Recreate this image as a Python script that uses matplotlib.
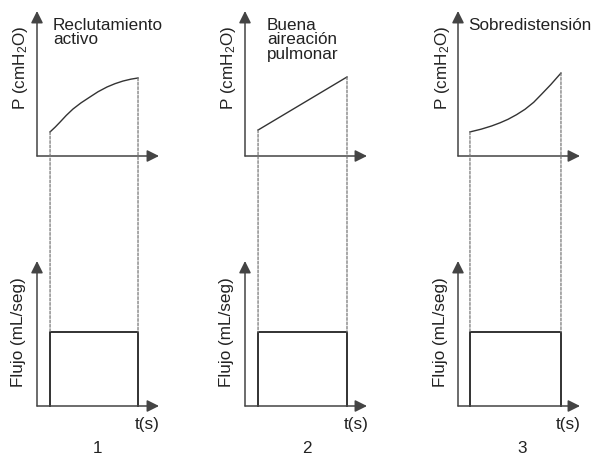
import matplotlib
matplotlib.use("Agg")
import matplotlib.pyplot as plt
from matplotlib.patches import ConnectionPatch

plt.rcParams['font.family'] = ['Liberation Sans', 'DejaVu Sans']
plt.rcParams['mathtext.fontset'] = 'custom'
plt.rcParams['mathtext.rm'] = 'Liberation Sans'
plt.rcParams['mathtext.default'] = 'regular'

# ---- data (normalised time / pressure / flow units) ----
titles = ["Reclutamiento\nactivo", "Buena\naireación\npulmonar", "Sobredistensión"]
panel_numbers = ["1", "2", "3"]
p_label = "P (cmH$_2$O)"
f_label = "Flujo (mL/seg)"
t_label = "t(s)"

t_p1 = [0.107, 0.150, 0.189, 0.240, 0.295, 0.360, 0.434, 0.500, 0.574, 0.640, 0.705, 0.770, 0.828]
p1 = [0.166, 0.200, 0.234, 0.280, 0.324, 0.366, 0.407, 0.443, 0.476, 0.499, 0.517, 0.530, 0.538]
t_p2 = [0.107, 0.836]
p2 = [0.179, 0.545]
t_p3 = [0.098, 0.190, 0.275, 0.345, 0.410, 0.480, 0.549, 0.620, 0.685, 0.760, 0.844]
p3 = [0.166, 0.185, 0.207, 0.229, 0.253, 0.285, 0.322, 0.370, 0.426, 0.492, 0.572]
pressure_t = [t_p1, t_p2, t_p3]
pressure_v = [p1, p2, p3]
flow_level = [0.51, 0.51, 0.51]

W, H = 592, 456
fig = plt.figure(figsize=(W / 100, H / 100), dpi=100)

col_x = [37, 245, 458]
ax_w, ax_h = 122, 145
top_bottom, bot_bottom = 157, 407

def add_ax(x, ybot):
    return fig.add_axes([x / W, 1 - ybot / H, ax_w / W, ax_h / H])

axis_col = '#444444'
curve_col = '#333333'
dash_col = '#777777'

def draw_axes(ax):
    ax.set_xlim(0, 1)
    ax.set_ylim(0, 1)
    ax.axis('off')
    for xy in [(1, 0), (0, 1)]:
        ax.annotate('', xy=xy, xytext=(0, 0), xycoords='axes fraction',
                    textcoords='axes fraction',
                    arrowprops=dict(arrowstyle='-|>,head_length=0.6,head_width=0.3',
                                    color=axis_col, lw=1.1, mutation_scale=12,
                                    shrinkA=0, shrinkB=0))

for i in range(3):
    axt = add_ax(col_x[i], top_bottom)
    axb = add_ax(col_x[i], bot_bottom)
    draw_axes(axt)
    draw_axes(axb)
    tp, pv = pressure_t[i], pressure_v[i]
    axt.plot(tp, pv, color=curve_col, lw=1.0, clip_on=False)
    t0, t1 = tp[0], tp[-1]
    fl = flow_level[i]
    axb.plot([t0, t0, t1, t1], [0, fl, fl, 0], color='#222222', lw=1.3, clip_on=False)
    for tt, pp in [(t0, pv[0]), (t1, pv[-1])]:
        con = ConnectionPatch(xyA=(tt, pp), coordsA=axt.transData,
                              xyB=(tt, fl), coordsB=axb.transData,
                              color=dash_col, lw=0.9, linestyle=(0, (2.2, 1.3)))
        fig.add_artist(con)

# text in pixel coordinates
def ftext(x, y, s, **kw):
    fig.text(x / W, 1 - y / H, s, **kw)

fs = 12.3
ftext(53, 18, titles[0], fontsize=fs, va='top', ha='left', linespacing=0.95, color='#222')
ftext(267, 18, titles[1], fontsize=fs, va='top', ha='left', linespacing=0.95, color='#222')
ftext(468, 18, titles[2], fontsize=fs, va='top', ha='left', linespacing=0.95, color='#222')

p_x = [21, 229, 442]
for i in range(3):
    ftext(p_x[i], 68, p_label, fontsize=fs, rotation=90, ha='center', va='center', color='#222')
    ftext(p_x[i] - 2, 332, f_label, fontsize=fs, rotation=90, ha='center', va='center', color='#222')

tx = [147, 356, 568]
nx = [98, 307, 522]
for i in range(3):
    ftext(tx[i], 425, t_label, fontsize=fs, ha='center', va='center', color='#222')
    ftext(nx[i], 449, panel_numbers[i], fontsize=fs, ha='center', va='center', color='#222')

fig.savefig('out.png', dpi=100, facecolor='white')
